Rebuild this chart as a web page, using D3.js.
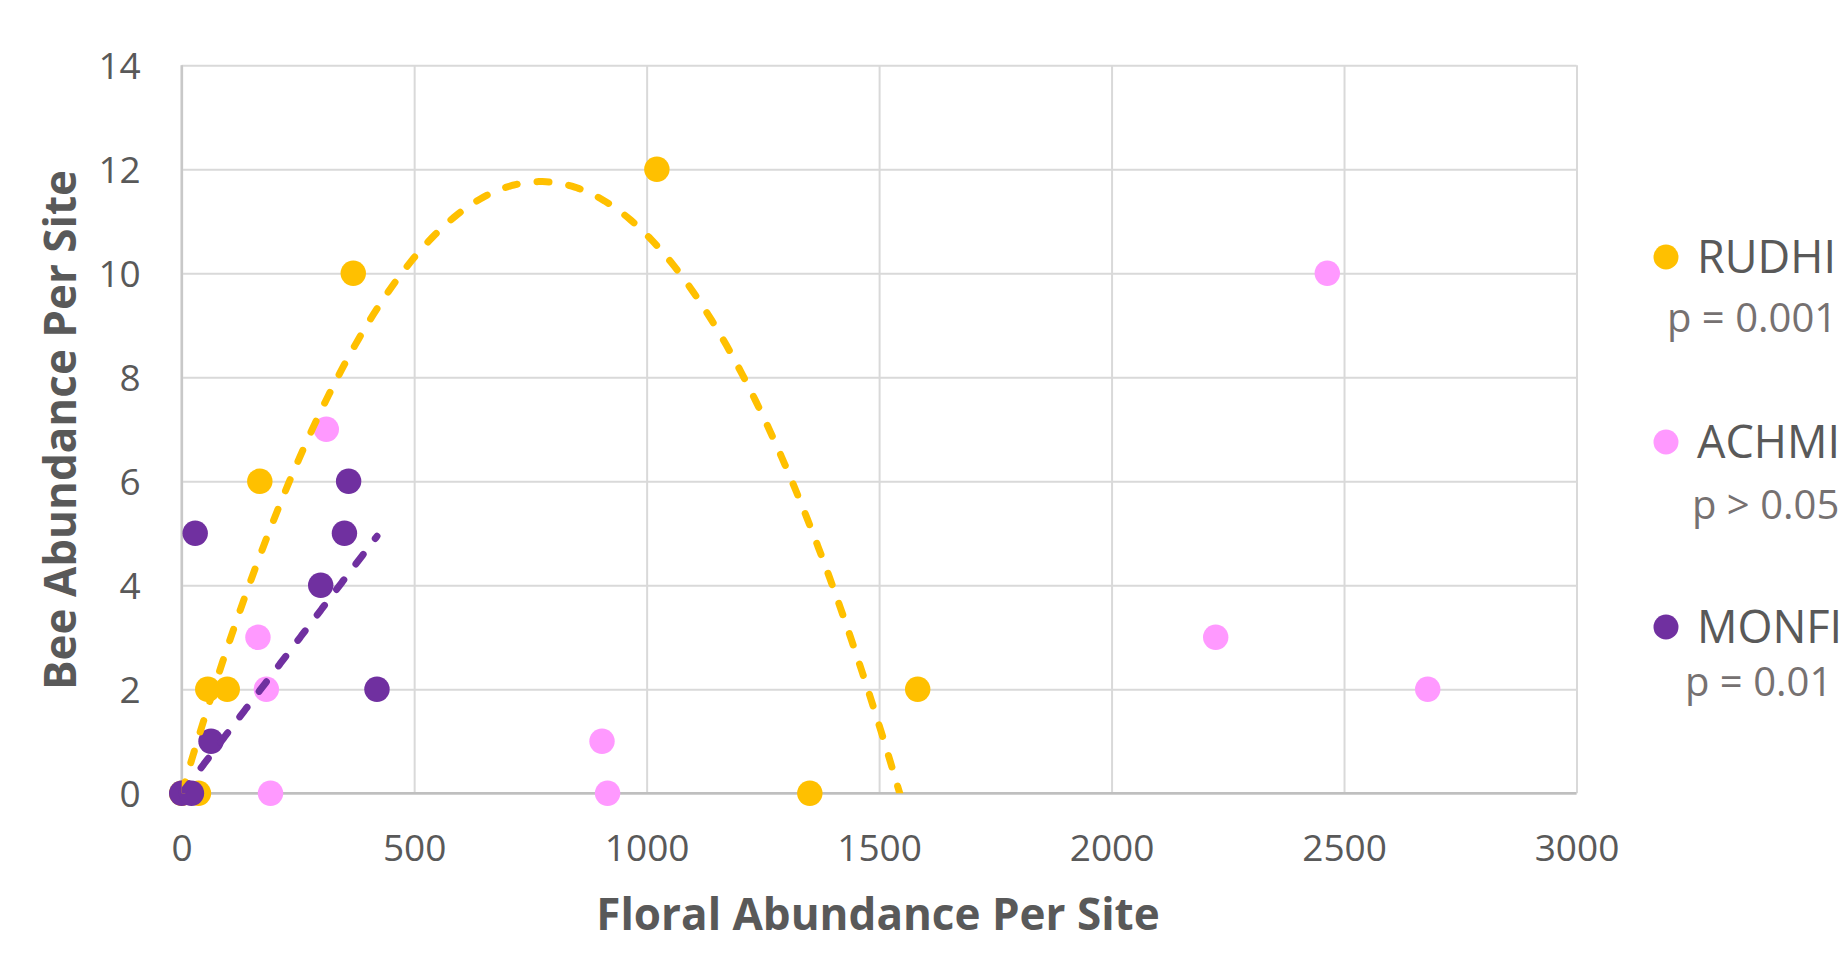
<!DOCTYPE html>
<html>
<head>
<meta charset="utf-8">
<script src="https://cdn.jsdelivr.net/npm/d3@7"></script>
<style>
  html, body { margin: 0; padding: 0; background: #fff; overflow: hidden; }
  text { font-family: "Open Sans", "Noto Sans", sans-serif; }
</style>
</head>
<body>
<svg id="chart" width="1839" height="961"></svg>
<script>
// values
var rudhiX = [0, 36, 56, 98, 168, 369, 1022, 1351, 1583];
var rudhiY = [0, 0, 2, 2, 6, 10, 12, 0, 2];
var achmiX = [164, 182, 191, 311, 904, 916, 2224, 2464, 2680];
var achmiY = [3, 2, 0, 7, 1, 0, 3, 10, 2];
var monfX = [0, 21, 29, 63, 299, 350, 359, 420];
var monfY = [0, 0, 5, 1, 4, 5, 6, 2];

// trendline coefficients [c0, c1, c2]
var rudhiTrend = [0, 0.03047, -0.00001973];
var monfTrend = [0, 0.01177];

var xTicks = [0, 500, 1000, 1500, 2000, 2500, 3000];
var yTicks = [0, 2, 4, 6, 8, 10, 12, 14];

var seriesNames = ['RUDHI', 'ACHMI', 'MONFI'];
var pLabels = ['p = 0.001', 'p > 0.05', 'p = 0.01'];
var colors = ['#FFC000', '#FF99FF', '#7030A0'];

var svg = d3.select('#chart');
var pLeft = 181.7, pRight = 1576.5, pTop = 65.3, pBottom = 793.3;

var x = d3.scaleLinear().domain([0, 3000]).range([pLeft, pRight]);
var y = d3.scaleLinear().domain([0, 14]).range([pBottom, pTop]);

// gridlines
svg.append('g').attr('transform', 'translate(0,' + pBottom + ')')
    .call(d3.axisBottom(x).tickValues(xTicks).tickSize(-(pBottom - pTop)).tickFormat(''))
    .call(function(g) { g.select('.domain').remove(); })
    .selectAll('line').attr('stroke', '#d9d9d9').attr('stroke-width', 2);
svg.append('g').attr('transform', 'translate(' + pLeft + ',0)')
    .call(d3.axisLeft(y).tickValues(yTicks).tickSize(-(pRight - pLeft)).tickFormat(''))
    .call(function(g) { g.select('.domain').remove(); })
    .selectAll('line').attr('stroke', '#d9d9d9').attr('stroke-width', 2);

// axis lines
svg.append('line').attr('x1', pLeft).attr('x2', pRight).attr('y1', pBottom).attr('y2', pBottom)
    .attr('stroke', '#bfbfbf').attr('stroke-width', 2.5);
svg.append('line').attr('x1', pLeft).attr('x2', pLeft).attr('y1', pTop).attr('y2', pBottom)
    .attr('stroke', '#c8c8c8').attr('stroke-width', 2.5);

// tick labels
var xa = svg.append('g').attr('transform', 'translate(0,' + pBottom + ')')
    .call(d3.axisBottom(x).tickValues(xTicks).tickSize(0).tickPadding(0).tickFormat(d3.format('d')));
xa.select('.domain').remove();
xa.selectAll('text').attr('y', 55).attr('dy', '0.35em')
    .attr('fill', '#595959').style('font-size', '37px').style('font-family', '"Open Sans", sans-serif');

var ya = svg.append('g').attr('transform', 'translate(' + pLeft + ',0)')
    .call(d3.axisLeft(y).tickValues(yTicks).tickSize(0).tickPadding(0).tickFormat(d3.format('d')));
ya.select('.domain').remove();
ya.selectAll('text').attr('x', -41).attr('dy', '0.35em')
    .attr('fill', '#595959').style('font-size', '37px').style('font-family', '"Open Sans", sans-serif');

// axis titles
svg.append('text').attr('x', 878).attr('y', 915).attr('dy', '0.35em')
    .attr('text-anchor', 'middle').attr('fill', '#595959')
    .style('font-size', '44px').style('font-weight', 'bold')
    .text('Floral Abundance Per Site');
svg.append('text').attr('transform', 'translate(61,430) rotate(-90)').attr('dy', '0.35em')
    .attr('text-anchor', 'middle').attr('fill', '#595959')
    .style('font-size', '44px').style('font-weight', 'bold')
    .text('Bee Abundance Per Site');

// points
var allX = [rudhiX, achmiX, monfX];
var allY = [rudhiY, achmiY, monfY];
allX.forEach(function(xs, s) {
  svg.append('g').selectAll('circle').data(xs).enter().append('circle')
      .attr('cx', function(d) { return x(d); })
      .attr('cy', function(d, i) { return y(allY[s][i]); })
      .attr('r', 12.7)
      .attr('fill', colors[s]);
});

// trendlines, clipped to the plot area
svg.append('clipPath').attr('id', 'plotClip').append('rect')
    .attr('x', pLeft).attr('y', pTop).attr('width', pRight - pLeft).attr('height', pBottom - pTop);

var poly = function(c, v) {
  var r = 0;
  for (var k = 0; k < c.length; k++) r += c[k] * Math.pow(v, k);
  return r;
};
var line = d3.line().x(function(d) { return x(d[0]); }).y(function(d) { return y(d[1]); });

var trendSpec = [
  { coef: rudhiTrend, from: d3.min(rudhiX), to: d3.max(rudhiX), color: colors[0] },
  { coef: monfTrend, from: d3.min(monfX), to: d3.max(monfX), color: colors[2] }
];
trendSpec.forEach(function(t) {
  var pts = d3.range(0, 201).map(function(i) {
    var v = t.from + (t.to - t.from) * i / 200;
    return [v, poly(t.coef, v)];
  });
  svg.append('path').datum(pts)
      .attr('clip-path', 'url(#plotClip)')
      .attr('d', line)
      .attr('fill', 'none')
      .attr('stroke', t.color)
      .attr('stroke-width', 7)
      .attr('stroke-linecap', 'round')
      .attr('stroke-dasharray', '12 20');
});

// legend
var legY = [257, 442, 627];
var pX = [1667, 1692, 1685];
var pY = [318, 505, 682];
seriesNames.forEach(function(name, i) {
  svg.append('circle').attr('cx', 1666).attr('cy', legY[i]).attr('r', 12.5).attr('fill', colors[i]);
  svg.append('text').attr('x', 1697).attr('y', legY[i]).attr('dy', '0.35em')
      .attr('fill', '#595959').style('font-size', '45px').text(name);
  svg.append('text').attr('x', pX[i]).attr('y', pY[i]).attr('dy', '0.35em')
      .attr('fill', '#767171').style('font-size', '40px').text(pLabels[i]);
});
</script>
</body>
</html>
